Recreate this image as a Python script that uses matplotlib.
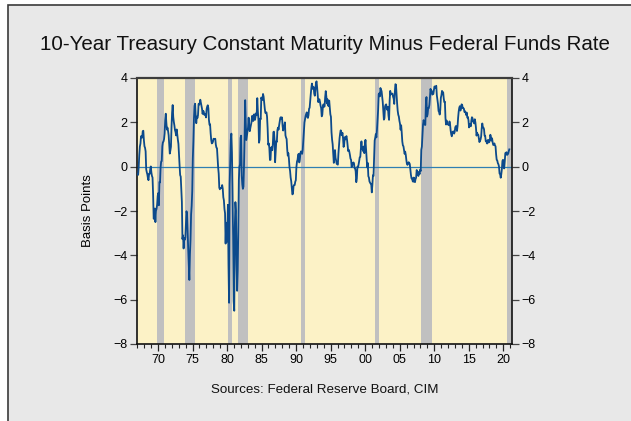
import numpy as np
import matplotlib
matplotlib.use("Agg")
import matplotlib.pyplot as plt
from matplotlib.patches import Rectangle

plt.rcParams["font.family"] = ["Liberation Sans", "DejaVu Sans"]

# monthly spread, 10y treasury minus fed funds, starting Jan 1967
spread_1967_1969 = [
    -0.36, -0.37, 0.01, 0.54, 0.91, 1.04, 1.37, 1.38, 1.31, 1.60, 1.62, 1.19,
    0.92, 0.85, 0.69, -0.12, -0.25, -0.35, -0.52, -0.61, -0.32, -0.33, -0.12, 0.01,
    -0.26, -0.42, -0.49, -1.24, -2.35, -2.33, -1.89, -2.50, -1.99, -1.90, -1.71, -1.32,
]
spread_1970s = [
    -1.19, -1.74, -0.69, -0.71, -0.04, 0.23, 0.25, 0.92, 1.10, 1.13, 1.24, 1.49,
    2.10, 2.39, 1.99, 1.67, 1.76, 1.61, 1.42, 1.02, 0.59, 0.73, 0.90, 1.79,
    2.44, 2.78, 2.24, 2.02, 1.86, 1.65, 1.56, 1.41, 1.68, 1.44, 1.22, 1.03,
    0.52, 0.06, -0.38, -0.45, -0.99, -1.59, -3.27, -3.10, -3.69, -3.22, -3.30, -3.21,
    -2.66, -2.01, -2.14, -3.00, -3.73, -4.39, -5.11, -3.97, -3.30, -2.16, -1.77, -1.10,
    0.37, 1.15, 2.19, 2.74, 2.84, 2.31, 1.96, 2.26, 2.19, 2.32, 2.83, 2.80,
    2.87, 3.02, 2.89, 2.74, 2.61, 2.38, 2.52, 2.48, 2.34, 2.38, 2.34, 2.22,
    2.60, 2.71, 2.77, 2.64, 2.11, 1.89, 1.91, 1.50, 1.20, 1.05, 1.07, 1.13,
    1.26, 1.25, 1.25, 1.26, 0.99, 0.86, 0.83, 0.37, -0.03, -0.32, -0.95, -1.02,
    -0.97, -0.96, -0.97, -0.83, -0.99, -1.38, -1.52, -1.91, -2.10, -3.47, -2.53, -3.39,
]
spread_1980s = [
    -3.02, -1.72, -4.44, -6.14, -0.80, 0.31, 1.22, 1.49, 0.64, -1.06, -3.17, -6.06,
    -6.50, -2.70, -1.60, -2.00, -4.40, -5.60, -4.70, -2.90, -0.60, 0.00, 0.10, 1.30,
    1.40, -0.40, -0.80, -1.00, -0.90, 0.10, 1.40, 3.00, 2.00, 1.20, 1.40, 1.60,
    1.78, 2.21, 1.74, 1.60, 1.75, 1.87, 2.01, 2.29, 2.20, 2.06, 2.35, 2.36,
    2.11, 2.25, 2.41, 2.34, 3.09, 2.50, 2.13, 1.08, 1.22, 2.17, 2.14, 3.12,
    3.03, 3.01, 3.28, 3.16, 2.88, 2.63, 2.43, 2.43, 2.45, 2.25, 1.73, 0.99,
    1.05, 0.84, 0.30, 0.31, 0.86, 0.88, 0.74, 1.00, 1.56, 1.58, 1.21, 0.20,
    0.65, 1.15, 1.12, 1.65, 1.76, 1.67, 1.87, 2.03, 2.20, 2.23, 2.17, 2.22,
    1.84, 1.63, 1.79, 1.85, 2.00, 1.41, 1.31, 1.25, 0.79, 0.50, 0.61, 0.35,
    -0.03, -0.19, -0.49, -0.66, -0.95, -1.25, -1.22, -0.88, -0.83, -0.83, -0.68, -0.61,
]
spread_1990s = [
    -0.02, 0.23, 0.31, 0.53, 0.58, 0.19, 0.32, 0.62, 0.69, 0.61, 0.58, 0.77,
    1.18, 1.60, 1.99, 2.13, 2.29, 2.38, 2.45, 2.24, 2.20, 2.32, 2.61, 2.66,
    3.00, 3.28, 3.56, 3.75, 3.57, 3.50, 3.59, 3.29, 3.20, 3.49, 3.78, 3.85,
    3.58, 3.23, 2.91, 3.01, 3.04, 2.92, 2.75, 2.65, 2.27, 2.34, 2.70, 2.81,
    2.70, 2.72, 3.14, 3.41, 3.17, 2.85, 3.04, 2.77, 2.73, 2.98, 2.67, 2.36,
    2.25, 1.55, 1.22, 1.01, 0.62, 0.17, 0.43, 0.75, 0.40, 0.28, 0.13, 0.11,
    0.09, 0.59, 0.96, 1.29, 1.50, 1.64, 1.47, 1.42, 1.53, 1.29, 0.89, 1.01,
    1.33, 1.23, 1.30, 1.38, 1.21, 0.93, 0.70, 0.76, 0.67, 0.53, 0.36, 0.31,
    -0.02, 0.06, 0.16, 0.19, 0.16, -0.06, -0.08, -0.21, -0.70, -0.54, 0.00, -0.03,
    0.09, 0.24, 0.42, 0.44, 0.80, 1.14, 0.80, 0.87, 0.70, 0.91, 0.61, 0.98,
]
spread_2000s = [
    1.21, 0.79, 0.41, -0.03, 0.17, -0.43, -0.49, -0.67, -0.72, -0.77, -0.79, -1.16,
    -0.82, -0.39, -0.42, 0.34, 1.18, 1.31, 1.47, 1.32, 1.66, 2.08, 2.56, 3.27,
    3.31, 3.17, 3.55, 3.46, 3.41, 3.18, 2.92, 2.52, 2.12, 2.19, 2.71, 2.79,
    2.81, 2.64, 2.56, 2.70, 2.31, 2.11, 2.97, 3.42, 3.26, 3.28, 3.30, 3.29,
    3.15, 3.07, 2.83, 3.35, 3.72, 3.70, 3.24, 2.85, 2.52, 2.34, 2.26, 2.07,
    1.94, 1.67, 1.87, 1.55, 1.14, 0.96, 0.92, 0.76, 0.58, 0.68, 0.54, 0.31,
    0.13, 0.08, 0.13, 0.20, 0.17, 0.12, -0.15, -0.37, -0.53, -0.52, -0.65, -0.68,
    -0.49, -0.54, -0.70, -0.56, -0.50, -0.15, -0.26, -0.35, -0.42, -0.23, -0.34, -0.14,
    -0.20, 0.76, 0.90, 1.40, 1.90, 2.10, 2.00, 1.89, 1.88, 2.84, 3.14, 2.26,
    2.37, 2.65, 2.64, 2.78, 3.11, 3.51, 3.40, 3.43, 3.25, 3.27, 3.28, 3.47,
]
spread_2010s = [
    3.62, 3.56, 3.57, 3.65, 3.22, 3.02, 2.83, 2.51, 2.46, 2.35, 2.57, 3.11,
    3.22, 3.42, 3.27, 3.36, 3.08, 2.91, 2.93, 2.20, 1.90, 2.08, 1.93, 1.91,
    1.89, 1.87, 2.04, 1.91, 1.64, 1.46, 1.37, 1.55, 1.58, 1.59, 1.49, 1.56,
    1.77, 1.83, 1.82, 1.61, 1.82, 2.21, 2.49, 2.66, 2.73, 2.53, 2.64, 2.81,
    2.79, 2.64, 2.64, 2.62, 2.47, 2.50, 2.45, 2.33, 2.44, 2.21, 2.24, 2.09,
    1.77, 1.87, 1.93, 1.82, 2.08, 2.23, 2.19, 2.03, 2.03, 1.95, 2.14, 2.00,
    1.75, 1.40, 1.53, 1.44, 1.44, 1.26, 1.11, 1.16, 1.23, 1.36, 1.73, 1.95,
    1.78, 1.76, 1.69, 1.40, 1.39, 1.15, 1.17, 1.05, 1.05, 1.21, 1.19, 1.10,
    1.17, 1.44, 1.33, 1.18, 1.28, 1.09, 0.98, 0.98, 1.05, 0.96, 0.92, 0.56,
    0.31, 0.28, 0.16, 0.11, 0.01, -0.31, -0.34, -0.50, -0.34, -0.12, 0.26, 0.31,
]
spread_2020 = [0.21, -0.08, 0.22, 0.61, 0.62, 0.65, 0.53, 0.55, 0.59, 0.70, 0.78]

# recession spans (fractional years)
recession_start = [1969.92, 1973.92, 1980.10, 1981.60, 1990.65, 2001.35, 2008.10, 2020.55]
recession_end = [1970.92, 1975.33, 1980.67, 1983.00, 1991.35, 2002.05, 2009.65, 2021.50]

year_ticks = [1970, 1975, 1980, 1985, 1990, 1995, 2000, 2005, 2010, 2015, 2020]
year_labels = ["70", "75", "80", "85", "90", "95", "00", "05", "10", "15", "20"]

spread = np.array(spread_1967_1969 + spread_1970s + spread_1980s + spread_1990s
                  + spread_2000s + spread_2010s + spread_2020)
dates = 1967 + (np.arange(len(spread)) + 0.5) / 12

W, H = 631, 421
fig = plt.figure(figsize=(W / 100, H / 100), dpi=100, facecolor="white")
# grey panel with dark frame, kept behind the axes
panel = Rectangle((8 / W, -0.05), 1.1, 1 - 5 / H + 0.05,
                  transform=fig.transFigure, facecolor="#e8e8e8",
                  edgecolor="#3a3a3a", linewidth=1.2, zorder=-10)
fig.patches.append(panel)

ax = fig.add_axes([137 / W, 1 - 344 / H, (512 - 137) / W, (344 - 78) / H])
ax.set_zorder(5)
ax.set_facecolor("#fcf2c6")

for s, e in zip(recession_start, recession_end):
    ax.axvspan(s, e, color="#c0c0c0", lw=0, zorder=1)

ax.axhline(0, color="#2f7fb2", lw=0.9, zorder=2)
ax.plot(dates, spread, color="#0c4a8c", lw=1.3, zorder=3)

ax.set_xlim(1966.96, 2021.26)
ax.set_ylim(-8, 4)
ax.set_yticks(np.arange(-8, 5, 2))
ax.set_xticks(year_ticks)
ax.set_xticklabels(year_labels)
ax.set_xticks(np.arange(1967, 2022), minor=True)

ax.tick_params(axis="y", which="both", left=True, right=True, labelleft=True,
               labelright=True, direction="out", length=5, width=0.9,
               color="#444444", labelsize=9, pad=2)
ax.tick_params(axis="x", which="major", direction="out", length=5, width=0.9,
               color="#222222", labelsize=9, pad=2)
ax.tick_params(axis="x", which="minor", direction="out", length=3, width=0.8,
               color="#222222")

for side in ["left", "right", "bottom"]:
    ax.spines[side].set_color("#111111")
    ax.spines[side].set_linewidth(1.2)
ax.spines["top"].set_color("#3c3c3c")
ax.spines["top"].set_linewidth(1.6)

ax.set_ylabel("Basis Points", fontsize=9.5, labelpad=14)

fig.text(325 / W, 1 - 45 / H, "10-Year Treasury Constant Maturity Minus Federal Funds Rate",
         ha="center", va="center", fontsize=14.8, color="#111111")
fig.text(325 / W, 1 - 390 / H, "Sources: Federal Reserve Board, CIM",
         ha="center", va="center", fontsize=9.6, color="#111111")

fig.savefig("out.png", dpi=100, facecolor=fig.get_facecolor())
